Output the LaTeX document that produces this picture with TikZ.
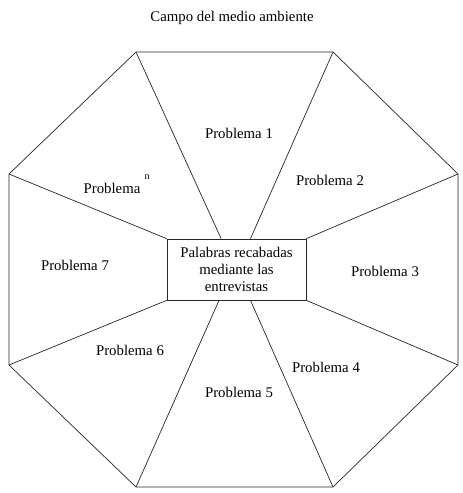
\documentclass[tikz,border=0pt]{standalone}
\usepackage{fontspec}
\setmainfont{Liberation Serif}
\usetikzlibrary{calc}
\usetikzlibrary{positioning}

\tikzset{
  lbl/.style={font=\fontsize{14.8}{17}\selectfont, inner sep=0pt},
  rim/.style={draw=black!85, line width=0.7pt},
}

\begin{document}
\begin{tikzpicture}[x=1pt,y=-1pt]
        \useasboundingbox (0,0) rectangle (463,493);
        \coordinate (tl) at (136,52);
        \coordinate (tr) at (333,52);
        \coordinate (rt) at (458,174);
        \coordinate (rb) at (458,365);
        \coordinate (br) at (333,487);
        \coordinate (bl) at (136,487);
        \coordinate (lb) at (9,365);
        \coordinate (lt) at (9,174);
        \draw[rim] (tl)--(tr)--(rt)--(rb)--(br)--(bl)--(lb)--(lt)--cycle;
        \node[rim, lbl, inner sep=0pt, minimum width=139pt, minimum height=61pt, align=center] (centro) at (236.5,269.5) {Palabras recabadas\\mediante las\\entrevistas};
        \draw[rim] (tl)--($(centro.north west)!0.39!(centro.north east)$);
        \draw[rim] (tr)--($(centro.north west)!0.6!(centro.north east)$);
        \draw[rim] (bl)--($(centro.south west)!0.375!(centro.south east)$);
        \draw[rim] (br)--($(centro.south west)!0.6!(centro.south east)$);
        \draw[rim] (lt)--(centro.north west);
        \draw[rim] (lb)--(centro.south west);
        \draw[rim] (rt)--(centro.north east);
        \draw[rim] (rb)--(centro.south east);
        \node[lbl] (titulo) at (232,18) {Campo del medio ambiente};
        \node[lbl] (p1) at (239,133) {Problema 1};
        \node[lbl] (p2) at (330,180) {Problema 2};
        \node[lbl] (p3) at (385,271) {Problema 3};
        \node[lbl] (p4) at (326,367) {Problema 4};
        \node[lbl] (p5) at (239,392) {Problema 5};
        \node[lbl] (p6) at (130,350) {Problema 6};
        \node[lbl] (p7) at (75,265) {Problema 7};
        \node[lbl] (pn) at (112,188) {Problema};
        \node[font=\fontsize{10}{12}\selectfont, inner sep=0pt] (pnsup) at (147,177) {n};
    \end{tikzpicture}
\end{document}
